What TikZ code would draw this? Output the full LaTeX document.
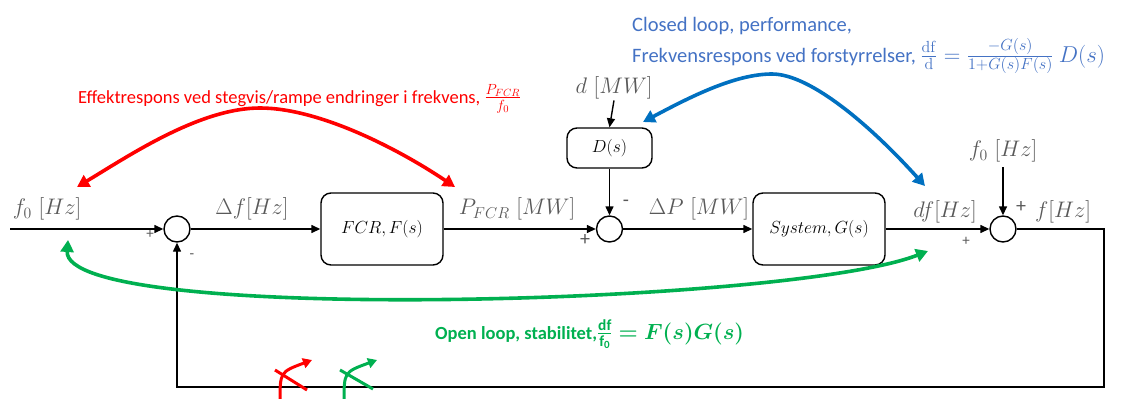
\documentclass[tikz,border=0pt]{standalone}
\usepackage{fix-cm}
\usepackage{amsmath,bm}
\usepackage[no-math]{fontspec}
\newfontfamily\calibri{Carlito}
\usetikzlibrary{arrows.meta}
\definecolor{lblgray}{HTML}{595959}
\definecolor{bluetxt}{HTML}{4472C4}
\definecolor{bluearr}{HTML}{0070C0}
\definecolor{redc}{HTML}{FF0000}
\definecolor{greenc}{HTML}{00B050}
\begin{document}
\begin{tikzpicture}[x=1pt,y=-1pt,
  lbl/.style={text=lblgray,font=\fontsize{22.5}{26}\selectfont,inner sep=0pt},
  sgn/.style={text=lblgray,font=\calibri\fontsize{15}{17}\selectfont,inner sep=0pt},
  sgnb/.style={text=lblgray,font=\calibri\fontsize{20}{22}\selectfont,inner sep=0pt},
  blk/.style={draw=black,line width=1.4pt,rounded corners=10pt,font=\fontsize{17.5}{20}\selectfont,inner sep=0pt},
  sumc/.style={draw=black,line width=1.4pt,circle,minimum size=26pt,inner sep=0pt},
  conn/.style={line width=1.4pt,-{Triangle[length=9pt,width=8pt]}},
  carr/.style={line width=3.6pt,{Triangle[length=12pt,width=13pt]}-{Triangle[length=12pt,width=13pt]}},
  sarr/.style={line width=3pt,-{Triangle[length=9pt,width=10pt]}},
  ctext/.style={font=\calibri\fontsize{18.5}{22}\selectfont,inner sep=0pt,anchor=base west}]
\useasboundingbox (0,0) rectangle (1125,399);

% blocks
\node[sumc] (s1) at (177,229) {};
\node[blk,minimum width=122pt,minimum height=72pt] (fcr) at (382,229) {$FCR, F(s)$};
\node[sumc] (s2) at (609.5,229) {};
\node[blk,minimum width=85pt,minimum height=40pt] (ds) at (609.5,148) {$D(s)$};
\node[blk,minimum width=132pt,minimum height=72pt] (sys) at (819,229) {$System, G(s)$};
\node[sumc] (s3) at (1003,229) {};

\coordinate (in) at (10,229);
\coordinate (c1) at (1104,229);
\coordinate (c2) at (1104,387);
\coordinate (c3) at (177,387);

% labels
\node[lbl] (lf0) at (47,209) {$f_0\ [Hz]$};
\node[lbl] (ldf) at (252,209) {$\Delta f[Hz]$};
\node[lbl] (lp) at (517,209) {$P_{FCR}\ [MW]$};
\node[lbl] (ldp) at (699,209) {$\Delta P\ [MW]$};
\node[lbl] (ldff) at (945,212) {$df[Hz]$};
\node[lbl] (lf) at (1063,212) {$f[Hz]$};
\node[lbl] (lf0t) at (1003,151) {$f_0\ [Hz]$};
\node[lbl] (ld) at (614,88) {$d\ [MW]$};

% signs
\node[sgn] (p1) at (150,234) {+};
\node[sgn] (m1) at (192,256) {-};
\node[sgnb] (p2) at (585,240) {+};
\node[sgnb] (m2) at (626,203) {-};
\node[sgn] (p3) at (966,241) {+};
\node[sgnb] (p4) at (1021,207) {+};

% connectors
\draw[conn] (in) -- (s1.west);
\draw[conn] (s1.east) -- (fcr.west);
\draw[conn] (fcr.east) -- (s2.west);
\draw[conn] (s2.east) -- (sys.west);
\draw[conn] (sys.east) -- (s3.west);
\draw[conn] (ds.south) -- (s2.north);
\draw[conn] (ld.south) ++(0,1) -- (ds.north);
\draw[conn] (lf0t.south) ++(0,5) -- (s3.north);
\draw[conn] (s3.east) -- (c1) -- (c2) -- (c3) -- (s1.south);

% texts
\node[ctext,text=redc] (tred) at (78,103) {Effektrespons ved stegvis/rampe endringer i frekvens, {\fontsize{21}{22}\selectfont$\frac{P_{FCR}}{f_0}$}};
\node[ctext,text=bluetxt,font=\calibri\fontsize{20.5}{22}\selectfont] (tblue1) at (632,31) {Closed loop, performance,};
\node[ctext,text=bluetxt,font=\calibri\fontsize{20.5}{22}\selectfont] (tblue2) at (632,62) {Frekvensrespons ved forstyrrelser, {\fontsize{23}{24}\selectfont$\frac{\mathrm{df}}{\mathrm{d}}=\frac{-G(s)}{1+G(s)F(s)}\ D(s)$}};
\node[ctext,text=greenc] (tgreen) at (435,339) {\bfseries Open loop, stabilitet,{\fontsize{22}{24}\selectfont$\frac{\text{\calibri\bfseries df}}{\text{\calibri\bfseries f}_{\text{\calibri\bfseries 0}}}\bm{=F(s)G(s)}$}};

% colored arrows
\coordinate (ra) at (77,187);
\coordinate (rb) at (455,187);
\draw[carr,draw=redc] (ra) .. controls (130,155) and (200,108) .. (260,108)
  .. controls (320,108) and (400,150) .. (rb);
\coordinate (ba) at (643,122);
\coordinate (bb) at (925,186);
\draw[carr,draw=bluearr] (ba) .. controls (690,97) and (735,74) .. (772,74)
  .. controls (810,74) and (870,125) .. (bb);
\coordinate (ga) at (68,240);
\coordinate (gb) at (928,251);
\draw[carr,draw=greenc] (ga) .. controls (62,325) and (790,305) .. (gb);

% switch symbols
\draw[sarr,draw=redc] (280,402) .. controls (280,372) .. (312,360);
\draw[line width=3pt,draw=redc] (275,370) -- (307,390);
\draw[sarr,draw=greenc] (344,402) .. controls (344,372) .. (377,360);
\draw[line width=3pt,draw=greenc] (340,370) -- (373,389);
\end{tikzpicture}
\end{document}
